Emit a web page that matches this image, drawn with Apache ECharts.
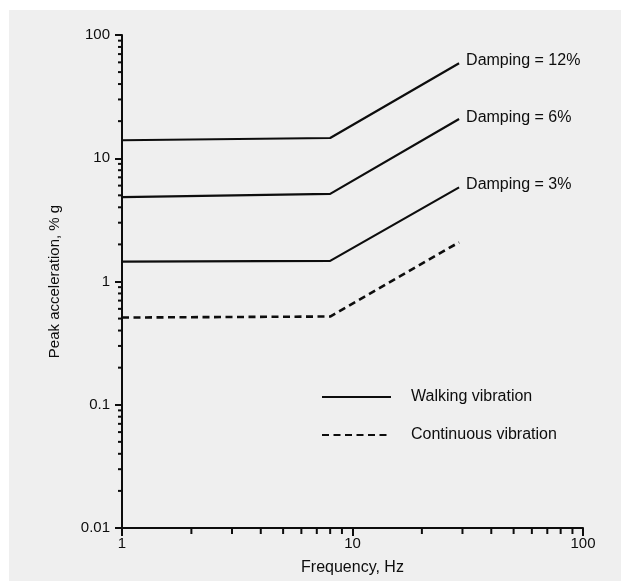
<!DOCTYPE html>
<html>
<head>
<meta charset="utf-8">
<script src="https://cdn.jsdelivr.net/npm/echarts@6/dist/echarts.min.js"></script>
<style>
  html, body { margin: 0; padding: 0; background: #ffffff; }
  #paper { position: absolute; left: 9px; top: 10px; right: 0; bottom: 0; background: #efefef; }
  #chart { position: absolute; left: 0; top: 0; width: 621px; height: 581px; }
</style>
</head>
<body>
<div id="paper"></div>
<div id="chart"></div>
<script>
// Frequency breakpoints (Hz) shared by every curve
const freqHz = [1, 8, 29];

// Peak acceleration limits, % g
const walking12 = [14.0, 14.6, 59];
const walking6 = [4.84, 5.14, 20.8];
const walking3 = [1.45, 1.47, 5.8];
const continuous = [0.51, 0.52, 2.08];

const dampingLabels = ['Damping = 12%', 'Damping = 6%', 'Damping = 3%'];

// Axis ticks
const xTickLabels = ['1', '10', '100'];
const yTickLabels = ['0.01', '0.1', '1', '10', '100'];
const xMinorTicks = [2, 3, 4, 5, 6, 7, 8, 9, 20, 30, 40, 50, 60, 70, 80, 90];
const yMinorTicks = [0.02, 0.03, 0.04, 0.05, 0.06, 0.07, 0.08, 0.09,
                     0.2, 0.3, 0.4, 0.5, 0.6, 0.7, 0.8, 0.9,
                     2, 3, 4, 5, 6, 7, 8, 9,
                     20, 30, 40, 50, 60, 70, 80, 90];

const FONT = '"Liberation Sans", Arial, Helvetica, sans-serif';
const INK = '#0d0d0d';
const CLEAR = 'rgba(0,0,0,0)';

function pairs(ys) { return freqHz.map((f, i) => [f, ys[i]]); }

function walkingSeries(ys, label, offsetY) {
  return {
    type: 'line',
    name: 'Walking vibration',
    data: pairs(ys),
    symbol: 'none',
    lineStyle: { color: INK, width: 2.2, type: 'solid' },
    itemStyle: { color: CLEAR, borderColor: CLEAR },
    endLabel: {
      show: true,
      distance: 7,
      offset: [0, offsetY],
      fontFamily: FONT,
      fontSize: 16,
      color: INK,
      formatter: () => label
    },
    emphasis: { disabled: true },
    animation: false,
    z: 3
  };
}

// Minor tick marks drawn through the axes' own log scales
const minorTickData = xMinorTicks.map(v => [v, 0.01, 0])
  .concat(yMinorTicks.map(v => [1, v, 1]));

const chart = echarts.init(document.getElementById('chart'), null, { renderer: 'canvas' });

chart.setOption({
  backgroundColor: 'transparent',
  animation: false,
  grid: { left: 122, right: 38, top: 35, bottom: 47, containLabel: false },
  legend: {
    data: ['Walking vibration', 'Continuous vibration'],
    orient: 'vertical',
    left: 316,
    top: 384,
    itemWidth: 69,
    itemHeight: 16,
    itemGap: 22,
    selectedMode: false,
    itemStyle: { opacity: 0 },
    textStyle: { fontFamily: FONT, fontSize: 16, color: INK, lineHeight: 16, padding: [0, 0, 0, 15] }
  },
  xAxis: {
    type: 'log',
    logBase: 10,
    min: 1,
    max: 100,
    name: 'Frequency, Hz',
    nameLocation: 'middle',
    nameGap: 32,
    nameTextStyle: { fontFamily: FONT, fontSize: 16, color: INK },
    axisLine: { lineStyle: { color: INK, width: 2 } },
    axisTick: { show: true, inside: false, length: 8, lineStyle: { color: INK, width: 2 } },
    splitLine: { show: false },
    axisLabel: {
      fontFamily: FONT, fontSize: 15, color: INK, margin: 8,
      formatter: v => xTickLabels[Math.round(Math.log10(v))]
    }
  },
  yAxis: {
    type: 'log',
    logBase: 10,
    min: 0.01,
    max: 100,
    name: 'Peak acceleration, % g',
    nameLocation: 'middle',
    nameRotate: 90,
    nameGap: 60,
    nameTextStyle: { fontFamily: FONT, fontSize: 15, color: INK },
    axisLine: { lineStyle: { color: INK, width: 2 } },
    axisTick: { show: true, inside: false, length: 7, lineStyle: { color: INK, width: 2 } },
    splitLine: { show: false },
    axisLabel: {
      fontFamily: FONT, fontSize: 15, color: INK, margin: 12,
      formatter: v => yTickLabels[Math.round(Math.log10(v)) + 2]
    }
  },
  series: [
    walkingSeries(walking12, dampingLabels[0], -3),
    walkingSeries(walking6, dampingLabels[1], -1),
    walkingSeries(walking3, dampingLabels[2], -3),
    {
      type: 'line',
      name: 'Continuous vibration',
      data: pairs(continuous),
      symbol: 'none',
      lineStyle: { color: INK, width: 2.6, type: [7, 4.5] },
      itemStyle: { color: CLEAR, borderColor: CLEAR },
      emphasis: { disabled: true },
      animation: false,
      z: 3
    },
    {
      type: 'custom',
      name: 'minor ticks',
      coordinateSystem: 'cartesian2d',
      data: minorTickData,
      clip: false,
      silent: true,
      z: 4,
      renderItem: (params, api) => {
        const p = api.coord([api.value(0), api.value(1)]);
        const isY = api.value(2) === 1;
        const shape = isY
          ? { x1: p[0] - 4, y1: p[1], x2: p[0], y2: p[1] }
          : { x1: p[0], y1: p[1], x2: p[0], y2: p[1] + 6 };
        return { type: 'line', shape: shape, style: { stroke: INK, lineWidth: 2 } };
      }
    }
  ]
});
</script>
</body>
</html>
